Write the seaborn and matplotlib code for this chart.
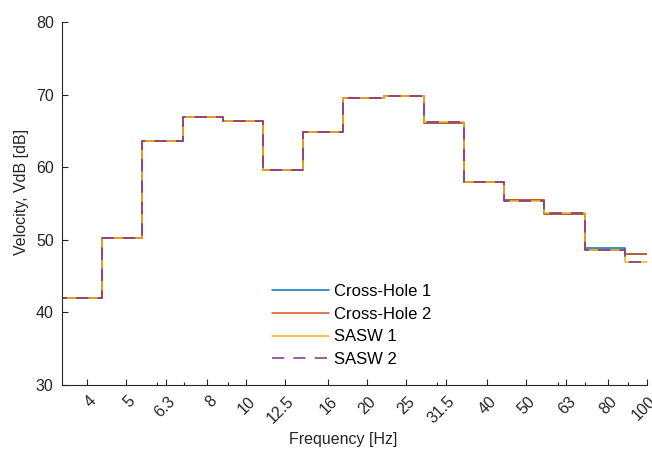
import matplotlib
matplotlib.use("Agg")
import matplotlib.pyplot as plt
import matplotlib.transforms as mtransforms
from matplotlib.ticker import LogLocator, NullFormatter
import seaborn as sns

# Band edges (Hz) where each level starts
band_start = [2.76, 3.47, 4.375, 5.51, 6.95, 8.75, 11.02, 13.89, 17.5,
              22.05, 27.78, 35.0, 44.1, 55.56, 70.0, 88.2]
x_end = 100

# Velocity levels per band [dB]
cross_hole_1 = [43.4, 42.0, 50.3, 63.7, 67.0, 66.4, 59.7, 64.9, 69.5,
                69.9, 66.15, 58.0, 55.5, 53.6, 48.9, 48.1]
cross_hole_2 = [43.4, 42.0, 50.3, 63.7, 67.0, 66.4, 59.7, 64.9, 69.5,
                69.9, 66.15, 58.0, 55.5, 53.6, 48.65, 48.1]
sasw_1 = [43.4, 42.0, 50.3, 63.7, 67.0, 66.4, 59.7, 64.9, 69.5,
          69.9, 66.2, 58.0, 55.4, 53.7, 48.65, 47.0]
sasw_2 = [43.4, 42.0, 50.3, 63.7, 67.0, 66.4, 59.7, 64.9, 69.5,
          69.9, 66.2, 58.0, 55.4, 53.7, 48.65, 47.0]

freq_ticks = [4, 5, 6.3, 8, 10, 12.5, 16, 20, 25, 31.5, 40, 50, 63, 80, 100]
freq_labels = ["4", "5", "6.3", "8", "10", "12.5", "16", "20", "25", "31.5",
               "40", "50", "63", "80", "100"]

series = [
    ("Cross-Hole 1", cross_hole_1, "#0072BD", "-"),
    ("Cross-Hole 2", cross_hole_2, "#D95319", "-"),
    ("SASW 1", sasw_1, "#EDB120", "-"),
    ("SASW 2", sasw_2, "#7E2F8E", (0, (8, 6))),
]

sns.set_style("ticks")
plt.rcParams["font.family"] = ["Liberation Sans", "DejaVu Sans"]
ink = "#262626"

fig = plt.figure(figsize=(6.52, 4.53), dpi=100)
ax = fig.add_axes([62 / 652, 1 - 385 / 453, 584.7 / 652, 362.7 / 453])

for name, vals, col, ls in series:
    sns.lineplot(x=band_start + [x_end], y=vals + [vals[-1]], ax=ax,
                 color=col, linestyle=ls, linewidth=1.1,
                 drawstyle="steps-post", errorbar=None, label=name)

ax.set_xscale("log")
ax.set_xlim(3.47, 100)
ax.set_ylim(30, 80)
ax.set_xticks(freq_ticks)
ax.set_xticklabels(freq_labels, rotation=45, ha="right", va="center",
                   rotation_mode="anchor")
ax.xaxis.set_minor_locator(LogLocator(base=10, subs=range(2, 10)))
ax.xaxis.set_minor_formatter(NullFormatter())
ax.set_yticks(range(30, 81, 10))

for s in ["top", "right"]:
    ax.spines[s].set_visible(False)
for s in ["left", "bottom"]:
    ax.spines[s].set_color(ink)
    ax.spines[s].set_linewidth(0.8)

ax.tick_params(axis="both", which="major", direction="in", length=4.5,
               width=0.8, color=ink, labelcolor=ink, labelsize=11.5)
ax.tick_params(axis="x", which="major", pad=10)
ax.tick_params(axis="x", which="minor", direction="in", length=2.5,
               width=0.8, color=ink)
ax.tick_params(axis="y", pad=6)

shift = mtransforms.ScaledTranslation(5 / 72, 0, fig.dpi_scale_trans)
for lab in ax.get_xticklabels():
    lab.set_transform(lab.get_transform() + shift)

ax.set_xlabel("Frequency [Hz]", fontsize=11.5, color=ink)
ax.set_ylabel("Velocity, VdB [dB]", fontsize=11.5, color=ink)
ax.xaxis.set_label_coords(0.481, -0.13)
ax.yaxis.set_label_coords(-0.056, 0.533)

ax.legend(loc="upper left", bbox_to_anchor=(0.359, 0.279), frameon=False,
          fontsize=12, handlelength=3.4, handletextpad=0.3,
          labelspacing=0.47, borderpad=0, borderaxespad=0, labelcolor="black")

fig.savefig("out.png", dpi=100)
